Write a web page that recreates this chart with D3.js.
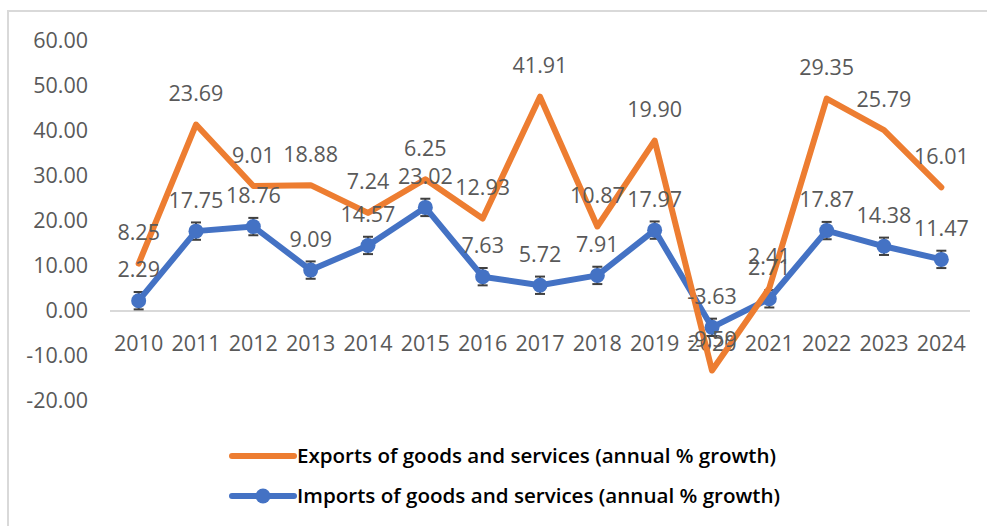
<!DOCTYPE html>
<html>
<head>
<meta charset="utf-8">
<script src="https://cdn.jsdelivr.net/npm/d3@7"></script>
<style>
  html, body { margin: 0; padding: 0; background: #fff; }
  svg { display: block; }
</style>
</head>
<body>
<svg id="chart" width="987" height="526"></svg>
<script>
// Annual % growth, 2010–2024
const years = ["2010","2011","2012","2013","2014","2015","2016","2017","2018","2019","2020","2021","2022","2023","2024"];
const exportsGrowth = [8.25, 23.69, 9.01, 18.88, 7.24, 6.25, 12.93, 41.91, 10.87, 19.90, -9.59, 2.41, 29.35, 25.79, 16.01];
const importsGrowth = [2.29, 17.75, 18.76, 9.09, 14.57, 23.02, 7.63, 5.72, 7.91, 17.97, -3.63, 2.71, 17.87, 14.38, 11.47];
const yTicks = [-20, -10, 0, 10, 20, 30, 40, 50, 60];
const seriesNames = ["Exports of goods and services (annual % growth)", "Imports of goods and services (annual % growth)"];

const ORANGE = "#ED7D31", BLUE = "#4472C4", GREY_TXT = "#595959", GRID = "#d9d9d9";
const FONT = "'Open Sans', sans-serif";

const locale = d3.formatLocale({decimal: ".", thousands: ",", grouping: [3], currency: ["", ""], minus: "-"});
const fmt = locale.format(".2f");

const svg = d3.select("#chart");

// Chart frame
svg.append("rect")
  .attr("x", 8).attr("y", 11).attr("width", 1100).attr("height", 700)
  .attr("fill", "none").attr("stroke", GRID).attr("stroke-width", 2);

// Stacked line layout: exports stacked on top of imports
const rows = years.map((y, i) => ({year: y, imports: importsGrowth[i], exports: exportsGrowth[i]}));
const stacked = d3.stack().keys(["imports", "exports"]).offset(d3.stackOffsetNone)(rows);
const importsLayer = stacked[0], exportsLayer = stacked[1];

const x = d3.scaleBand().domain(years).range([110, 970]).padding(0);
const y = d3.scaleLinear().domain([-20, 60]).range([401, 41]);
const cx = d => x(d) + x.bandwidth() / 2;

// Y axis labels (no axis line)
const yAxis = d3.axisLeft(y).tickValues(yTicks).tickFormat(fmt).tickSize(0).tickPadding(0);
const gy = svg.append("g").attr("transform", "translate(88,0)").call(yAxis);
gy.select(".domain").remove();
gy.selectAll("text").attr("font-family", FONT).attr("font-size", "21.5px").attr("fill", GREY_TXT);

// Zero line
svg.append("line")
  .attr("x1", 110).attr("x2", 970).attr("y1", y(0)).attr("y2", y(0))
  .attr("stroke", GRID).attr("stroke-width", 2);

// Category labels
const xAxis = d3.axisBottom(x).tickSize(0).tickPadding(0);
const gx = svg.append("g").attr("transform", "translate(0,343)").call(xAxis);
gx.select(".domain").remove();
gx.selectAll("text").attr("font-family", FONT).attr("font-size", "21.5px").attr("fill", GREY_TXT)
  .attr("y", 0).attr("dy", "0.35em");

// Standard error of imports for error bars
const se = d3.deviation(importsGrowth) / Math.sqrt(importsGrowth.length);

const lineGen = d3.line().x((d, i) => cx(years[i])).y(d => y(d[1]));

// Imports error bars
const eb = svg.append("g").attr("stroke", "#404040").attr("stroke-width", 2);
importsLayer.forEach((d, i) => {
  const px = cx(years[i]);
  eb.append("line").attr("x1", px).attr("x2", px).attr("y1", y(d[1] + se)).attr("y2", y(d[1] - se));
  eb.append("line").attr("x1", px - 5).attr("x2", px + 5).attr("y1", y(d[1] + se)).attr("y2", y(d[1] + se));
  eb.append("line").attr("x1", px - 5).attr("x2", px + 5).attr("y1", y(d[1] - se)).attr("y2", y(d[1] - se));
});

// Imports line + markers
svg.append("path").datum(importsLayer)
  .attr("d", lineGen).attr("fill", "none").attr("stroke", BLUE)
  .attr("stroke-width", 6).attr("stroke-linejoin", "round").attr("stroke-linecap", "round");
svg.append("g").selectAll("circle").data(importsLayer).join("circle")
  .attr("cx", (d, i) => cx(years[i])).attr("cy", d => y(d[1])).attr("r", 7.5).attr("fill", BLUE);

// Exports line (stacked)
svg.append("path").datum(exportsLayer)
  .attr("d", lineGen).attr("fill", "none").attr("stroke", ORANGE)
  .attr("stroke-width", 6).attr("stroke-linejoin", "round").attr("stroke-linecap", "round");

// Data labels above each point
function labels(layer, values) {
  svg.append("g").selectAll("text").data(layer).join("text")
    .attr("x", (d, i) => cx(years[i]))
    .attr("y", d => y(d[1]) - 31)
    .attr("dy", "0.35em")
    .attr("text-anchor", "middle")
    .attr("font-family", FONT).attr("font-size", "21.5px").attr("fill", GREY_TXT)
    .text((d, i) => fmt(values[i]));
}
labels(importsLayer, importsGrowth);
labels(exportsLayer, exportsGrowth);

// Legend
const legend = svg.append("g");
legend.append("line").attr("x1", 232).attr("x2", 294).attr("y1", 456).attr("y2", 456)
  .attr("stroke", ORANGE).attr("stroke-width", 6).attr("stroke-linecap", "round");
legend.append("line").attr("x1", 232).attr("x2", 294).attr("y1", 496).attr("y2", 496)
  .attr("stroke", BLUE).attr("stroke-width", 6).attr("stroke-linecap", "round");
legend.append("circle").attr("cx", 263).attr("cy", 496).attr("r", 7.5).attr("fill", BLUE);
legend.selectAll("text").data(seriesNames).join("text")
  .attr("x", 297).attr("y", (d, i) => 456 + i * 40).attr("dy", "0.35em")
  .attr("font-family", FONT).attr("font-size", "20px").attr("font-weight", 600).attr("fill", "#000")
  .attr("textLength", (d, i) => i === 0 ? 479 : 483).attr("lengthAdjust", "spacingAndGlyphs")
  .text(d => d);
</script>
</body>
</html>
